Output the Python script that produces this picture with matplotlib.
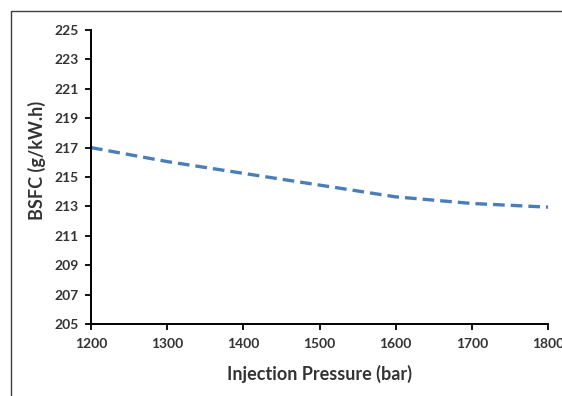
import matplotlib
matplotlib.use("Agg")
import matplotlib.pyplot as plt
from matplotlib.patches import Rectangle

pressure = [1200, 1300, 1400, 1500, 1600, 1700, 1800]
bsfc = [217.0, 216.05, 215.25, 214.45, 213.65, 213.2, 212.95]
xticks = [1200, 1300, 1400, 1500, 1600, 1700, 1800]
yticks = list(range(205, 226, 2))

plt.rcParams['font.family'] = ['Lato', 'DejaVu Sans']

fig = plt.figure(figsize=(5.62, 3.96), dpi=100)
fig.patches.append(Rectangle((11/562, -0.1), 1.2, 1 - 11/396 + 0.1, transform=fig.transFigure,
                             fill=False, edgecolor='#404040', linewidth=1.0))
ax = fig.add_axes([91/562, 1 - 324/396, (548 - 91)/562, (324 - 30)/396])
ax.plot(pressure, bsfc, color='#4a7ebb', linewidth=2.4, linestyle=(0, (3.5, 1.8)), clip_on=False)
ax.set_xlim(1200, 1800)
ax.set_ylim(205, 225)
ax.set_xticks(xticks)
ax.set_yticks(yticks)
for s in ['top', 'right']:
    ax.spines[s].set_visible(False)
for s in ['left', 'bottom']:
    ax.spines[s].set_linewidth(1.4)
ax.tick_params(axis='both', direction='out', length=4, width=1.3, labelsize=10, pad=6)
ax.tick_params(axis='y', pad=5)
for lab in ax.get_xticklabels() + ax.get_yticklabels():
    lab.set_fontweight('bold')
    lab.set_color('#333333')
ax.set_xlabel('Injection Pressure (bar)', fontsize=13, fontweight='bold', color='#333333', labelpad=11)
ax.set_ylabel('BSFC (g/kW.h)', fontsize=13, fontweight='bold', color='#333333', labelpad=6)
ax.yaxis.set_label_coords(35/562 - 91/562, 0.556, transform=None) if False else None
ax.yaxis.label.set_position((0, 0.556))
fig.savefig('out.png', dpi=100)
